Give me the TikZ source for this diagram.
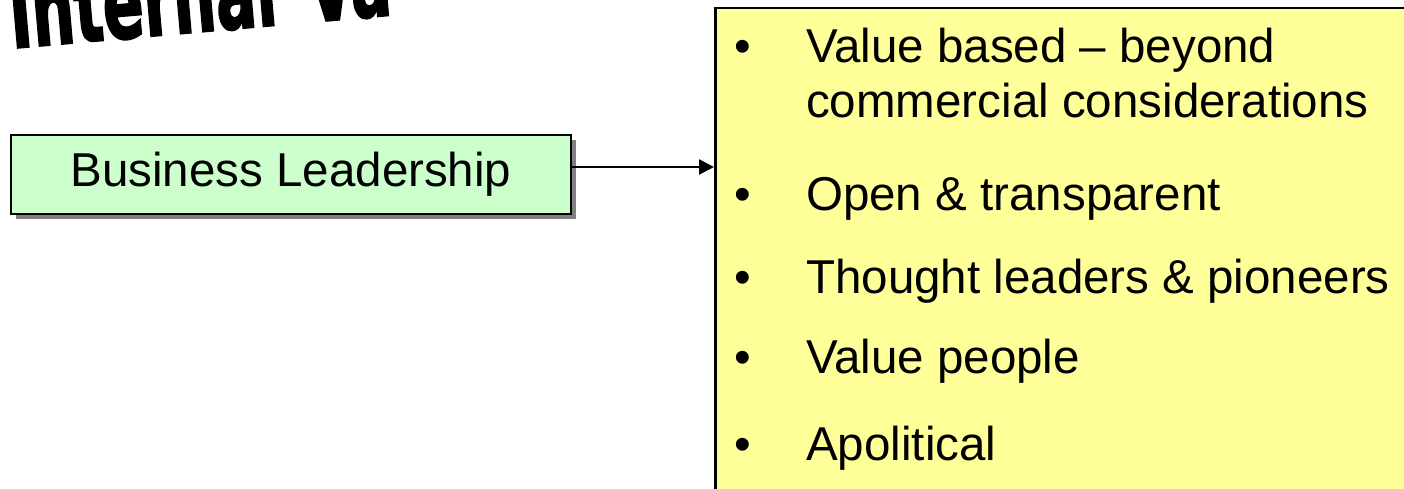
\documentclass[tikz,border=0pt]{standalone}
\usepackage{fontspec}
\setmainfont{Liberation Sans}
\newfontfamily\artfont{DejaVu Sans}[BoldFeatures={FakeBold=2.5}]
\usepackage{tikz}
\usetikzlibrary{arrows.meta, positioning, shadows}
\definecolor{leadgreen}{HTML}{CCFFCC}
\definecolor{valueyellow}{HTML}{FFFF99}
\definecolor{shadowgray}{HTML}{808080}
\tikzset{
  box/.style={draw=black, line width=2.5pt, inner sep=0pt,
              font=\fontsize{47.5}{55}\selectfont},
  leadbox/.style={box, fill=leadgreen, minimum width=560pt, minimum height=79pt,
              drop shadow={shadow xshift=5pt, shadow yshift=-5pt, fill=shadowgray, opacity=1}},
  valuebox/.style={box, fill=valueyellow, anchor=north west,
              minimum width=760pt, minimum height=560pt},
  flow/.style={-{Triangle[length=15pt, width=15pt]}, line width=2.5pt, draw=black},
  item/.style={anchor=base west, inner sep=0pt, font=\fontsize{47.5}{55}\selectfont},
  dot/.style={item, anchor=base},
  wordart/.style={anchor=base west, inner sep=0pt, rotate=5, xscale=0.6,
              font=\artfont\bfseries\fontsize{100}{100}\selectfont},
}
\begin{document}
\begin{tikzpicture}[x=1pt, y=-1pt]
  \useasboundingbox (0,0) rectangle (1404,489);
  \clip (0,0) rectangle (1404,489);
  % title (cut off at the top)
  \node[wordart] (title) at (12,48) {Internal\, Va};
  % left box
  \node[leadbox] (lead) at (291,174.5) {Business Leadership};
  % right box with the values
  \node[valuebox] (vals) at (714,7) {};
  \node[dot] (d1) at (743,63) {•};
  \node[item] (v1) at (806,63) {Value based -- beyond};
  \node[item] (v1b) at (806,118) {commercial considerations};
  \node[dot] (d2) at (743,210) {•};
  \node[item] (v2) at (806,210) {Open \& transparent};
  \node[dot] (d3) at (743,293) {•};
  \node[item] (v3) at (806,293) {Thought leaders \& pioneers};
  \node[dot] (d4) at (743,373) {•};
  \node[item] (v4) at (806,373) {Value people};
  \node[dot] (d5) at (743,460) {•};
  \node[item] (v5) at (806,460) {Apolitical};
  % arrow
  \coordinate (from) at ([yshift=7.5pt]lead.east);
  \draw[flow] (from) -- (from -| vals.west);
\end{tikzpicture}
\end{document}
